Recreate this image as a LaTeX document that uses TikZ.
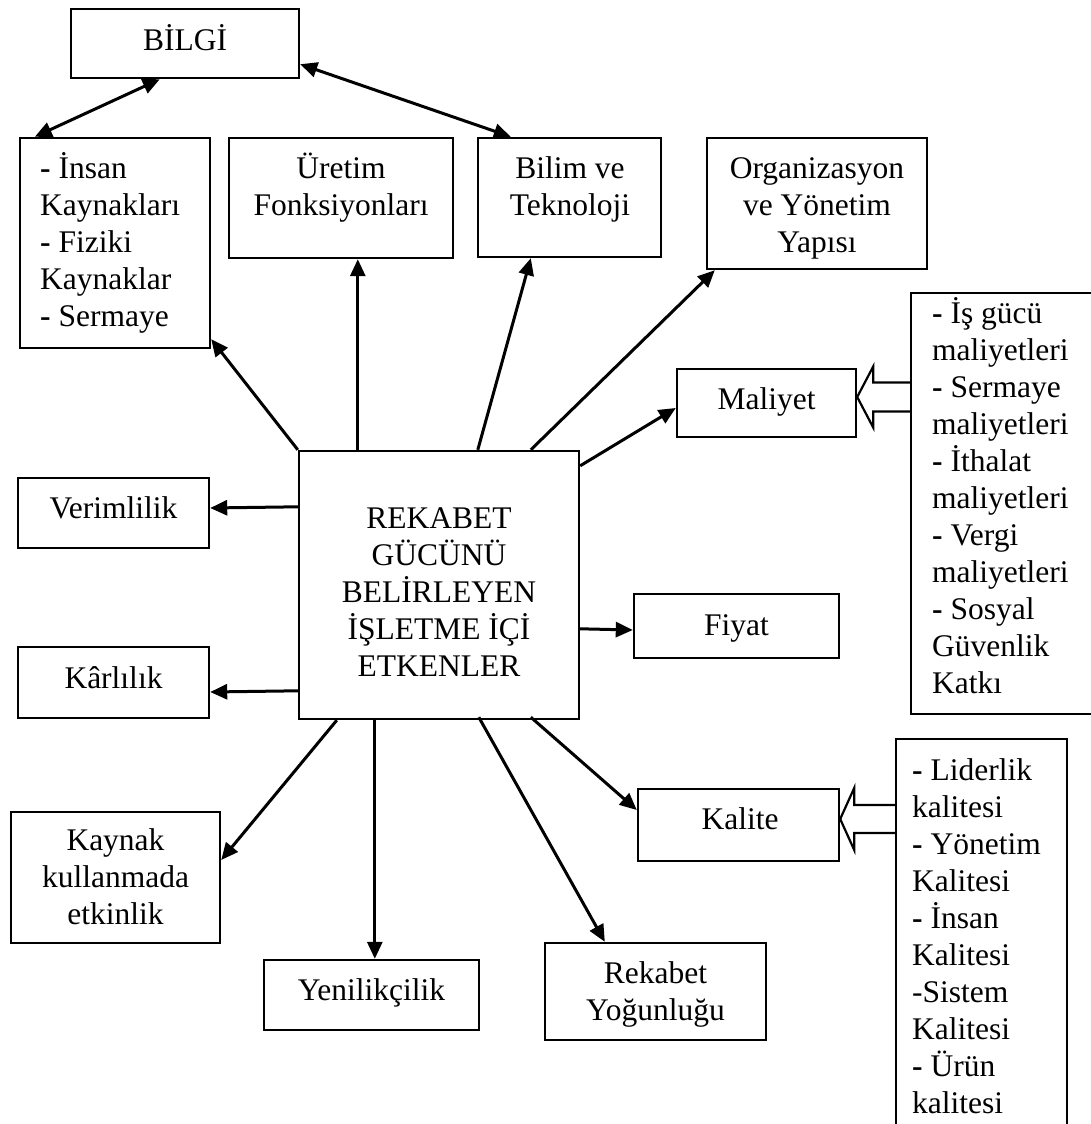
\documentclass[tikz,border=0pt]{standalone}
\usepackage{fontspec}
\setmainfont{Liberation Serif}
\usetikzlibrary{arrows.meta,calc}
% fixed height for the first line of every label, so labels can be placed by their first baseline
\newcommand\firstline{\rule{0pt}{29pt}}
\newcommand\bd{\textbf{-}}
\begin{document}
\begin{tikzpicture}[x=1pt,y=-1pt,
  box/.style={draw, line width=2.4pt, inner sep=0pt},
  txt/.style={inner sep=0pt, anchor=north, align=center, font=\fontsize{31.5}{37}\selectfont},
  ltxt/.style={txt, align=left, anchor=north west},
  conn/.style={line width=3pt, -{Triangle[length=17pt,width=15pt]}},
  both/.style={line width=3pt, {Triangle[length=17pt,width=15pt]}-{Triangle[length=17pt,width=15pt]}},
  hollow/.style={draw, line width=2.2pt, fill=white, line join=miter}]
\useasboundingbox (0,0) rectangle (1091,1124);
\clip (0,0) rectangle (1091,1124);

% boxes
\node[box, minimum width=228pt, minimum height=69pt]  (bilgi)   at (185,43.5) {};
\node[box, minimum width=190pt, minimum height=210pt] (insan)   at (115,243) {};
\node[box, minimum width=224pt, minimum height=120pt] (uretim)  at (341,198) {};
\node[box, minimum width=183pt, minimum height=119pt] (bilim)   at (569.5,197.5) {};
\node[box, minimum width=220pt, minimum height=131pt] (org)     at (817,203.5) {};
\node[box, minimum width=179pt, minimum height=68pt]  (maliyet) at (766.5,403) {};
\node[box, minimum width=189pt, minimum height=421pt] (mlist)   at (1005.5,503.5) {};
\node[box, minimum width=280pt, minimum height=268pt] (core)    at (439,585) {};
\node[box, minimum width=191pt, minimum height=70pt]  (verim)   at (113.5,513) {};
\node[box, minimum width=205pt, minimum height=64pt]  (fiyat)   at (736.5,626) {};
\node[box, minimum width=191pt, minimum height=71pt]  (karl)    at (113.5,682.5) {};
\node[box, minimum width=201pt, minimum height=72pt]  (kalite)  at (738.5,825) {};
\node[box, minimum width=171pt, minimum height=401pt] (klist)   at (981.5,939.5) {};
\node[box, minimum width=209pt, minimum height=131pt] (kaynak)  at (115.5,877.5) {};
\node[box, minimum width=215pt, minimum height=70pt]  (yeni)    at (371.5,995) {};
\node[box, minimum width=221pt, minimum height=97pt]  (rekabet) at (655.5,991.5) {};

% labels
\node[txt]  (bilgi-t)   at (185,21)    {\firstline BİLGİ};
\node[ltxt] (insan-t)   at (40,149)    {\firstline\bd{} İnsan\\Kaynakları\\\bd{} Fiziki\\Kaynaklar\\\bd{} Sermaye};
\node[txt]  (uretim-t)  at (341,149)   {\firstline Üretim\\Fonksiyonları};
\node[txt]  (bilim-t)   at (570,149)   {\firstline Bilim ve\\Teknoloji};
\node[txt]  (org-t)     at (817,149)   {\firstline Organizasyon\\ve Yönetim\\Yapısı};
\node[txt]  (maliyet-t) at (766.5,380) {\firstline Maliyet};
\node[ltxt] (mlist-t)   at (932,294)   {\firstline\bd{} İş gücü\\maliyetleri\\\bd{} Sermaye\\maliyetleri\\\bd{} İthalat\\maliyetleri\\\bd{} Vergi\\maliyetleri\\\bd{} Sosyal\\Güvenlik\\Katkı};
\node[txt]  (core-t)    at (439,499)   {\firstline REKABET\\GÜCÜNÜ\\BELİRLEYEN\\İŞLETME İÇİ\\ETKENLER};
\node[txt]  (verim-t)   at (113.5,489) {\firstline Verimlilik};
\node[txt]  (karl-t)    at (113.5,659) {\firstline Kârlılık};
\node[txt]  (fiyat-t)   at (736.5,606) {\firstline Fiyat};
\node[txt]  (kalite-t)  at (740,800)   {\firstline Kalite};
\node[ltxt] (klist-t)   at (912,751)   {\firstline\bd{} Liderlik\\kalitesi\\\bd{} Yönetim\\Kalitesi\\\bd{} İnsan\\Kalitesi\\-Sistem\\Kalitesi\\\bd{} Ürün\\kalitesi};
\node[txt]  (kaynak-t)  at (115.5,821) {\firstline Kaynak\\kullanmada\\etkinlik};
\node[txt]  (yeni-t)    at (371.5,971) {\firstline Yenilikçilik};
\node[txt]  (rekabet-t) at (655.5,954) {\firstline Rekabet\\Yoğunluğu};

% two-way links of BİLGİ
\draw[both] ([xshift=16pt]insan.north west) -- ([xshift=90pt]bilgi.south west);
\draw[both] ([yshift=15pt]bilgi.south east) -- ([xshift=34pt]bilim.north west);

% links from the central box
\draw[conn] ([xshift=60pt]core.north west)  -- ([xshift=130pt]uretim.south west);
\draw[conn] ([xshift=180pt]core.north west) -- ([xshift=54pt]bilim.south west);
\draw[conn] ([xshift=233pt]core.north west) -- ([xshift=9pt]org.south west);
\draw[conn] ([yshift=-16pt]core.north east) -- ([yshift=-5pt]maliyet.west);
\draw[conn] (core.north west) -- ([yshift=10pt]insan.south east);
\draw[conn] ([yshift=-57pt]core.north west) -- ([yshift=5pt]verim.east);
\draw[conn] ([yshift=-241pt]core.north west) -- ([yshift=-9.5pt]karl.east);
\draw[conn] ([yshift=-179pt]core.north east) -- ([yshift=-4pt]fiyat.west);
\draw[conn] ([xshift=39pt]core.south west) -- ([yshift=17.5pt]kaynak.east);
\draw[conn] ([xshift=77pt]core.south west) -- ([xshift=112pt]yeni.north west);
\draw[conn] ([xshift=181pt,yshift=3pt]core.south west) -- ([xshift=61pt]rekabet.north west);
\draw[conn] ([xshift=233pt,yshift=3pt]core.south west) -- ([yshift=15pt]kalite.west);

% block arrows from the lists
\coordinate (mt) at ([yshift=6pt]maliyet.east);
\draw[hollow] ($(mt -| mlist.west)+(0,-14.5)$) -- ($(mt)+(16,-14.5)$) -- ($(mt)+(16,-30.5)$) -- (mt)
  -- ($(mt)+(16,30.5)$) -- ($(mt)+(16,14.5)$) -- ($(mt -| mlist.west)+(0,14.5)$);
\coordinate (kt) at ([yshift=6pt]kalite.east);
\draw[hollow] ($(kt -| klist.west)+(0,-14)$) -- ($(kt)+(14,-14)$) -- ($(kt)+(14,-31)$) -- (kt)
  -- ($(kt)+(14,31)$) -- ($(kt)+(14,14)$) -- ($(kt -| klist.west)+(0,14)$);
\end{tikzpicture}
\end{document}
